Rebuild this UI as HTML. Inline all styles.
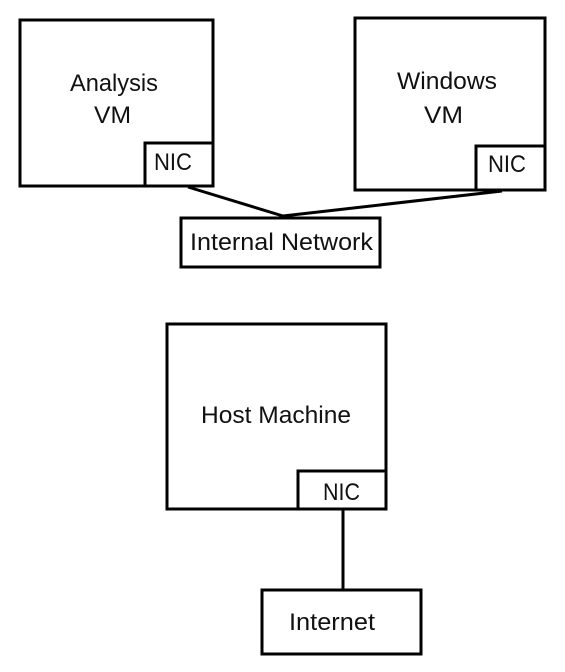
<!DOCTYPE html>
<html><head><style>html,body{margin:0;padding:0;background:#fff;}svg{display:block}</style></head>
<body>
<svg width="565" height="672" viewBox="0 0 565 672" xmlns="http://www.w3.org/2000/svg" font-family="Liberation Sans, sans-serif" font-size="24" fill="none" stroke="#000" stroke-width="3">
<rect x="20" y="20" width="193" height="166"/>
<rect x="145" y="143" width="68" height="43"/>
<rect x="355" y="18" width="190" height="172"/>
<rect x="476" y="146" width="69" height="44"/>
<line x1="188" y1="187" x2="283" y2="216"/>
<line x1="283" y1="216" x2="502" y2="191"/>
<rect x="181" y="218" width="199" height="49"/>
<rect x="167" y="324" width="219" height="185"/>
<rect x="298" y="471" width="88" height="38"/>
<line x1="343" y1="509" x2="343" y2="590"/>
<rect x="262" y="590" width="159" height="64"/>
<g fill="#111" stroke="none">
<text x="70" y="91" textLength="88" lengthAdjust="spacingAndGlyphs">Analysis</text>
<text x="94" y="123" textLength="37" lengthAdjust="spacingAndGlyphs">VM</text>
<text x="397" y="89" textLength="100" lengthAdjust="spacingAndGlyphs">Windows</text>
<text x="424" y="123" textLength="39" lengthAdjust="spacingAndGlyphs">VM</text>
<text x="154" y="170" textLength="38" lengthAdjust="spacingAndGlyphs">NIC</text>
<text x="488" y="172" textLength="38" lengthAdjust="spacingAndGlyphs">NIC</text>
<text x="190" y="250" textLength="183" lengthAdjust="spacingAndGlyphs">Internal Network</text>
<text x="201" y="423" textLength="150" lengthAdjust="spacingAndGlyphs">Host Machine</text>
<text x="323" y="500" textLength="37" lengthAdjust="spacingAndGlyphs">NIC</text>
<text x="289" y="630" textLength="86" lengthAdjust="spacingAndGlyphs">Internet</text>
</g>
</svg>
</body></html>
